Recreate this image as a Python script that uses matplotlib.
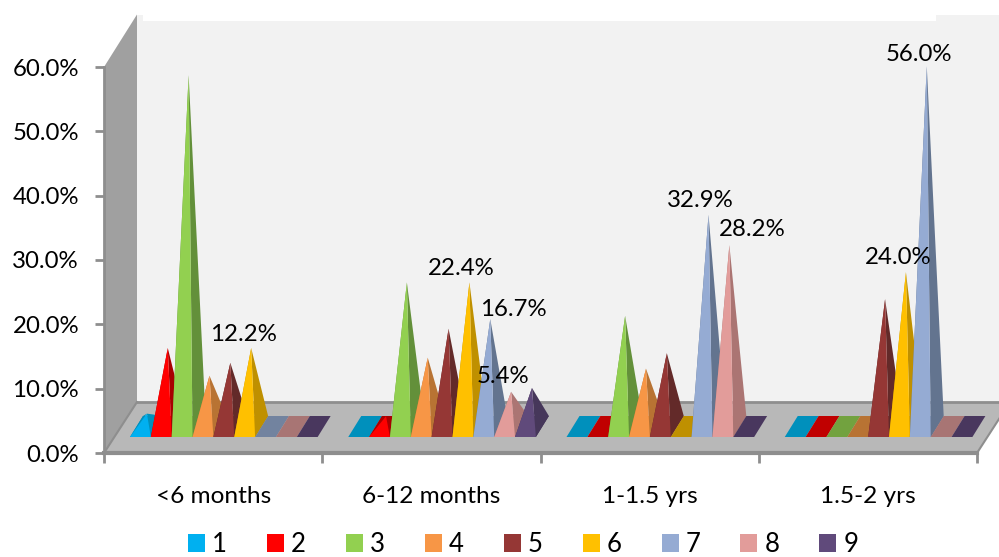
import matplotlib
matplotlib.use('Agg')
import matplotlib.pyplot as plt
from matplotlib.patches import Patch, Polygon
import numpy as np

plt.rcParams['font.family'] = ['Lato', 'DejaVu Sans']

categories = ['<6 months', '6-12 months', '1-1.5 yrs', '1.5-2 yrs']
series = ['1', '2', '3', '4', '5', '6', '7', '8', '9']

# percent per series, one list per age group
under_6m = [2.0, 12.2, 54.6, 7.9, 9.9, 12.2, 0, 0, 0]
m6_12 = [0, 1.6, 22.4, 10.7, 15.2, 22.4, 16.7, 5.4, 6.0]
y1_15 = [0, 0, 17.2, 9.0, 11.4, 0, 32.9, 28.2, 0]
y15_2 = [0, 0, 0, 0, 19.8, 24.0, 56.0, 0, 0]
values = [under_6m, m6_12, y1_15, y15_2]

# which values carry a label: (group, series)
labelled = [(0, 5), (1, 5), (1, 6), (1, 7), (2, 6), (2, 7), (3, 5), (3, 6)]
# label shift from the tip, in pixels
label_dx = [-8, -8, 23, -8, -8, 23, -8, -8]
label_dy = [14, 14, 10, 15, 14, 16, 15, 12]

colors = ['#00B0F0', '#FF0000', '#92D050', '#F79646', '#953735',
          '#FFC000', '#95ABD3', '#E29C9A', '#604A7B']
side_colors = ['#0090BC', '#A80000', '#63903A', '#B87333', '#632A29',
               '#BF9000', '#63748F', '#AB7573', '#46375A']
flat_colors = ['#0090BC', '#C00000', '#72A23F', '#B87333', '#632A29',
               '#BF9000', '#72839F', '#A87574', '#49375E']

fig = plt.figure(figsize=(9.99, 5.57), dpi=100)
ax = fig.add_axes([104 / 999, (557 - 453) / 557, 873 / 999, 386 / 557])
ax.set_xlim(0, 4)
ax.set_ylim(0, 60)

# pixel sizes of the fake 3d box, turned into data units
px_x = 4 / 873
px_y = 60 / 386
wall_dx, wall_dy = 33 * px_x, 51 * px_y
wall_top = 60 + 46 * px_y
wall_peak = 60 + 52.5 * px_y
notch_x = 832 * px_x
bar_w = 20.85 * px_x
depth_x, depth_y = 13 * px_x, 21 * px_y
group_off = 26 * px_x
bar_y = 16 * px_y


def poly(points, color, z=1, edge='none', lw=0):
    ax.add_patch(Polygon(points, closed=True, facecolor=color, edgecolor=edge,
                         linewidth=lw, zorder=z, clip_on=False))


# walls and floor
right = 4.3
poly([(wall_dx, wall_dy), (right, wall_dy), (right, wall_peak), (notch_x, wall_peak),
      (notch_x, wall_top), (wall_dx + 6 * px_x, wall_top), (wall_dx + 6 * px_x, wall_peak),
      (wall_dx, wall_peak)], '#F2F2F2')
poly([(0, 0), (wall_dx, wall_dy), (wall_dx, wall_peak), (0, 60)], '#A0A0A0')
poly([(0, 0), (wall_dx, wall_dy), (right, wall_dy), (4 + wall_dx, wall_dy), (4, 0)], '#B8B8B8')
ax.plot([wall_dx, 4 + wall_dx], [wall_dy, wall_dy], color='#8E8E8E', lw=2, zorder=2, clip_on=False)
ax.plot([0, 4], [0, 0], color='#8E8E8E', lw=3, zorder=2, clip_on=False)
ax.plot([0, wall_dx], [0, wall_dy], color='#8E8E8E', lw=1.5, zorder=2, clip_on=False)
ax.plot([4, 4 + wall_dx], [0, wall_dy], color='#8E8E8E', lw=1.5, zorder=2, clip_on=False)

# pyramids, left to right so later ones cover the side of earlier ones
for g, group in enumerate(values):
    for s, val in enumerate(group):
        x0 = g + group_off + s * bar_w
        fl = (x0, bar_y)
        fr = (x0 + bar_w, bar_y)
        br = (x0 + bar_w + depth_x, bar_y + depth_y)
        bl = (x0 + depth_x, bar_y + depth_y)
        z = 3 + s * 0.1
        if val == 0:
            poly([fl, fr, br, bl], flat_colors[s], z)
            continue
        tip = (x0 + (bar_w + depth_x) / 2, bar_y + depth_y / 2 + val)
        poly([fl, fr, br, bl], side_colors[s], z)
        poly([fl, bl, tip], side_colors[s], z)
        poly([fr, br, tip], side_colors[s], z)
        poly([fl, fr, tip], colors[s], z)

for (g, s), dx, dy in zip(labelled, label_dx, label_dy):
    val = values[g][s]
    x0 = g + group_off + s * bar_w
    tip = (x0 + (bar_w + depth_x) / 2, bar_y + depth_y / 2 + val)
    ax.annotate(f'{val:.1f}%', xy=tip, xytext=(dx, dy), xycoords='data', textcoords='offset pixels',
                ha='center', va='center', fontsize=17.3, color='black', zorder=10,
                annotation_clip=False)

for side in ax.spines:
    ax.spines[side].set_visible(False)
ax.patch.set_visible(False)
ax.spines['left'].set_visible(True)
ax.spines['left'].set_color('#8E8E8E')
ax.spines['left'].set_linewidth(2)

ax.set_yticks(np.arange(0, 70, 10))
ax.set_yticklabels([f'{v:.1f}%' for v in np.arange(0, 70, 10)])
ax.set_xticks(range(5))
ax.set_xticklabels([])
ax.set_xticks([0.5, 1.5, 2.5, 3.5], minor=True)
ax.set_xticklabels(categories, minor=True)
ax.tick_params(axis='y', length=6.5, width=2, color='#8E8E8E', labelsize=17.3, pad=11.5)
ax.tick_params(axis='x', which='major', length=7, width=2, color='#8E8E8E')
ax.tick_params(axis='x', which='minor', length=0, labelsize=17.6, pad=23.5)

handles = [Patch(facecolor=c, label=n) for c, n in zip(colors, series)]
fig.legend(handles=handles, ncol=9, loc='lower left', bbox_to_anchor=(188 / 999, 0.0),
           frameon=False, fontsize=18.5, handlelength=0.66, handleheight=0.66,
           handletextpad=0.27, columnspacing=1.56, borderpad=0, borderaxespad=0)

fig.savefig('out.png', dpi=100)
